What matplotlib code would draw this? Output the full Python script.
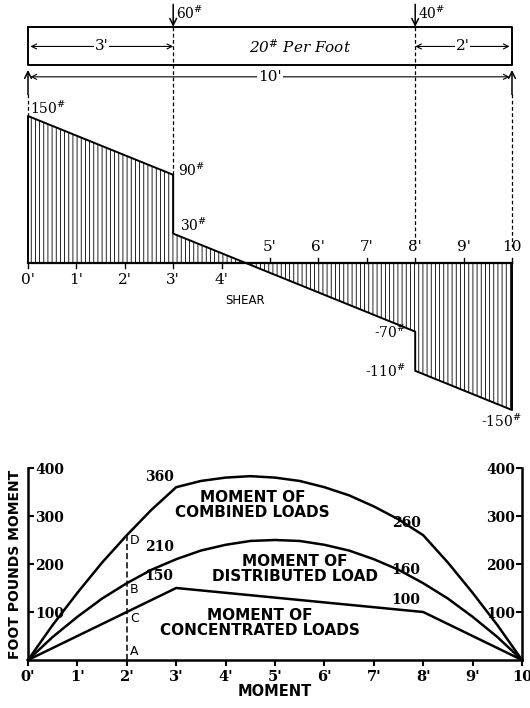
import matplotlib.pyplot as plt

plt.rcParams['mathtext.fontset'] = 'dejavuserif'
plt.rcParams['hatch.linewidth'] = 0.6

# beam and loads
span = 10
load_x = [3, 8]
load_lbl = ['60', '40']
dist_lbl = '20'

# shear diagram (lb)
shear_x = [0, 3, 3, 8, 8, 10]
shear_v = [150, 90, 30, -70, -110, -150]
shear_lbl = ['150', '90', '30', '-70', '-110', '-150']
feet = list(range(11))
feet_lbl = ["0'", "1'", "2'", "3'", "4'", "5'", "6'", "7'", "8'", "9'", "10"]

# moment diagram (ft-lb), read every half foot
mom_x = [0, 0.5, 1, 1.5, 2, 2.5, 3, 3.5, 4, 4.5, 5, 5.5, 6, 6.5, 7, 7.5, 8, 8.5, 9, 9.5, 10]
conc = [0, 25, 50, 75, 100, 125, 150, 145, 140, 135, 130, 125, 120, 115, 110, 105, 100, 75, 50, 25, 0]
dist = [0, 48, 90, 128, 160, 188, 210, 228, 240, 248, 250, 248, 240, 228, 210, 188, 160, 128, 90, 48, 0]
comb = [0, 73, 140, 203, 260, 313, 360, 373, 380, 383, 380, 373, 360, 343, 320, 293, 260, 203, 140, 73, 0]
mom_ticks = [100, 200, 300, 400]
mom_lbl_x = [3, 3, 3, 8, 8, 8]
mom_lbl_v = [360, 210, 150, 260, 160, 100]
sec_x = 2
sec_pts = ['A', 'C', 'B', 'D']
sec_vals = [0, 100, 160, 260]

serif = 'DejaVu Serif'
sans = 'DejaVu Sans'

fig = plt.figure(figsize=(5.3, 7.08), dpi=100)

# ---------- top: beam + shear ----------
ax = fig.add_axes([0, 1 - 430 / 708, 1, 430 / 708])
ax.set_xlim(-0.5785, 10.372)
ax.set_ylim(-170.4, 268.4)
ax.axis('off')

beam_top, beam_bot = 241, 202
dim_y, span_y = 221, 190

ax.plot([0, span, span, 0, 0], [beam_top, beam_top, beam_bot, beam_bot, beam_top],
        color='black', lw=1.4)

# point loads
for x, lbl in zip(load_x, load_lbl):
    ax.annotate('', xy=(x, beam_top), xytext=(x, 264),
                arrowprops=dict(arrowstyle='->', lw=1.1, color='black',
                                shrinkA=0, shrinkB=0, mutation_scale=12))
    ax.text(x + 0.05, 255, lbl + r'$^{\#}$', fontsize=10, family=serif, va='center')

# reactions
for x in [0, span]:
    ax.annotate('', xy=(x, 197), xytext=(x, 172),
                arrowprops=dict(arrowstyle='->', lw=1.1, color='black',
                                shrinkA=0, shrinkB=0, mutation_scale=12))

# dashed guide lines
ax.plot([0, 0], [172, 150], color='black', lw=0.9, ls=(0, (3, 2)))
ax.plot([span, span], [172, 16], color='black', lw=0.9, ls=(0, (3, 2)))
ax.plot([load_x[0]] * 2, [beam_top, shear_v[1]], color='black', lw=0.9, ls=(0, (3, 2)))
ax.plot([load_x[1]] * 2, [beam_top, 18], color='black', lw=0.9, ls=(0, (3, 2)))

# dimension lines
def dim(x0, x1, y, lbl):
    ax.annotate('', xy=(x0, y), xytext=(x1, y),
                arrowprops=dict(arrowstyle='<->', lw=0.8, color='black',
                                shrinkA=0, shrinkB=0, mutation_scale=9))
    ax.text((x0 + x1) / 2, y, lbl, fontsize=11, family=serif, ha='center', va='center',
            bbox=dict(fc='white', ec='none', pad=0.5))

dim(0.05, load_x[0], dim_y, "3'")
dim(load_x[1], span - 0.05, dim_y, "2'")
dim(0.05, span - 0.05, span_y, "10'")
ax.text(5.62, dim_y, dist_lbl + r'$^{\#}$' + ' Per Foot', fontsize=11, family=serif,
        style='italic', ha='center', va='center')

# shear polygon
ax.fill_between(shear_x, shear_v, 0, facecolor='white', edgecolor='black',
                hatch='||||', lw=0)
ax.plot([0] + shear_x + [span], [0] + shear_v + [0], color='black', lw=1.4)
ax.plot([0, span], [0, 0], color='black', lw=1.6)

for x, lbl in zip(feet, feet_lbl):
    if x < 5:
        ax.plot([x, x], [0, -5], color='black', lw=1)
        ax.text(x, -17, lbl, fontsize=11, family=serif, ha='center', va='center')
    else:
        ax.plot([x, x], [0, 5], color='black', lw=1)
        ax.text(x, 16, lbl, fontsize=11, family=serif, ha='center', va='center')

lbl_pos = [(0.05, 8, 'left'), (3.1, 5, 'left'), (3.15, 8, 'left'),
           (7.8, -1, 'right'), (7.8, -1, 'right'), (10.2, -12, 'right')]
for v, lbl, (x, dy, ha) in zip(shear_v, shear_lbl, lbl_pos):
    ax.text(x, v + dy, lbl + r'$^{\#}$', fontsize=10, family=serif, ha=ha, va='center')

ax.text(4.48, -38, 'SHEAR', fontsize=8.5, family=sans, ha='center', va='center')

# ---------- bottom: moment ----------
bx = fig.add_axes([28 / 530, 48 / 708, 494 / 530, 192 / 708])
bx.set_xlim(0, 10)
bx.set_ylim(0, 400)
for s in ['left', 'right', 'bottom']:
    bx.spines[s].set_linewidth(1.8)
bx.spines['top'].set_visible(False)

for y in [conc, dist, comb]:
    bx.plot(mom_x, y, color='black', lw=1.8, clip_on=False)

bx.plot([sec_x, sec_x], [0, sec_vals[-1]], color='black', lw=1.1, ls=(0, (4, 2)))
for lbl, v, dy in zip(sec_pts, sec_vals, [17, -13, -14, -10]):
    bx.text(sec_x + 0.06, v + dy, lbl, fontsize=9, family=sans, ha='left', va='center')

bx.set_xticks(feet)
bx.set_xticklabels(feet_lbl, family=serif, fontweight='bold', fontsize=10.5)
bx.tick_params(axis='x', direction='out', length=4, width=1.5, pad=3)

bx.set_yticks(mom_ticks)
bx.set_yticklabels([str(t) for t in mom_ticks], family=serif, fontweight='bold', fontsize=10)
bx.tick_params(axis='y', direction='in', length=4, width=1.5, pad=-5,
               left=True, right=True, labelleft=True, labelright=True)
for tick in bx.yaxis.get_major_ticks():
    tick.label1.set_horizontalalignment('left')
    tick.label2.set_horizontalalignment('right')

bx.set_ylabel('FOOT POUNDS MOMENT', family=sans, fontweight='bold', fontsize=10, labelpad=4)
bx.set_xlabel('MOMENT', family=sans, fontweight='bold', fontsize=10.5, labelpad=0)

for x, v, dy in zip(mom_lbl_x, mom_lbl_v, [6, 10, 10, 10, 12, 10]):
    bx.text(x - 0.05, v + dy, str(v), family=serif, fontweight='bold', fontsize=10,
            ha='right', va='bottom')

bx.text(4.55, 322, 'MOMENT OF\nCOMBINED LOADS', family=sans, fontweight='bold',
        fontsize=11, ha='center', va='center', linespacing=1.0)
bx.text(5.4, 190, 'MOMENT OF\nDISTRIBUTED LOAD', family=sans, fontweight='bold',
        fontsize=11, ha='center', va='center', linespacing=1.0)
bx.text(4.7, 78, 'MOMENT OF\nCONCENTRATED LOADS', family=sans, fontweight='bold',
        fontsize=11, ha='center', va='center', linespacing=1.0)

fig.savefig('out.png', dpi=100)
